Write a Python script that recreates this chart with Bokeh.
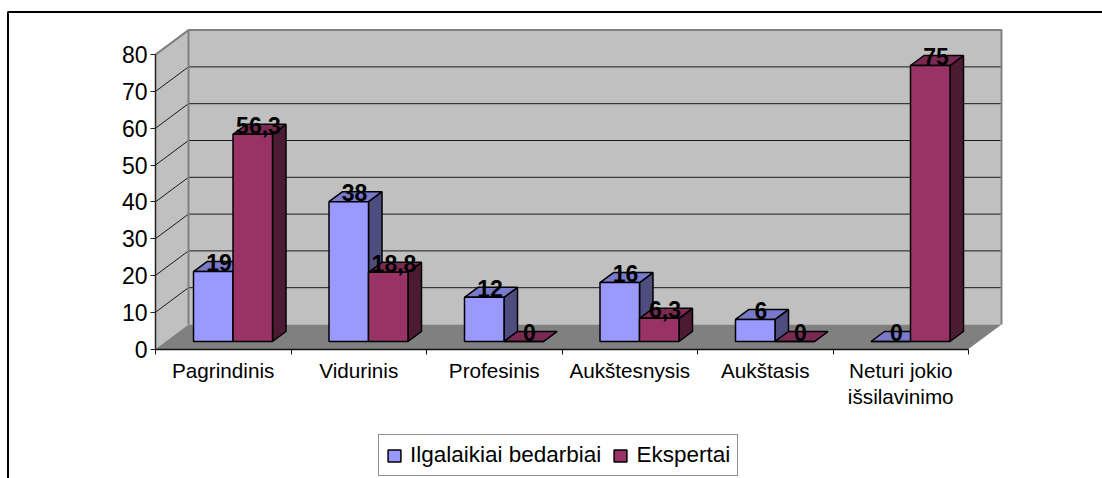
from bokeh.plotting import figure
from bokeh.models import Range1d, LinearAxis, FixedTicker, Legend, LegendItem
from bokeh.core.properties import value
from bokeh.embed import file_html
from bokeh.resources import INLINE

categories = ["Pagrindinis", "Vidurinis", "Profesinis", "Aukštesnysis", "Aukštasis", "Neturi jokio\nišsilavinimo"]
series_names = ["Ilgalaikiai bedarbiai", "Ekspertai"]
ilgalaikiai = [19, 38, 12, 16, 6, 0]
ekspertai = [56.3, 18.8, 0, 6.3, 0, 75]
ilgalaikiai_labels = ["19", "38", "12", "16", "6", "0"]
ekspertai_labels = ["56,3", "18,8", "0", "6,3", "0", "75"]
y_ticks = [0, 10, 20, 30, 40, 50, 60, 70, 80]

FONT = "Liberation Sans"
W, H = 1102, 478
X0, BAND = 155.0, 135.5      # pixel of category 0, pixels per category
Y0, UNIT = 348.5, 3.68       # pixel of value 0, pixels per value unit
def fx(px): return (px - X0) / BAND
def fy(py): return (Y0 - py) / UNIT

p = figure(width=W, height=H, output_backend="svg", toolbar_location=None,
           x_range=Range1d(fx(0), fx(W)), y_range=Range1d(fy(H), fy(0)),
           x_axis_location=None, y_axis_location=None, min_border=0,
           outline_line_color=None, background_fill_color="white", border_fill_color="white")
p.grid.visible = False

N = len(categories)
WALL_DX, WALL_DY = 33.0 / BAND, 24.5 / UNIT
TOP = y_ticks[-1]
# walls and floor
p.patch([0, WALL_DX, WALL_DX, 0], [0, WALL_DY, TOP + WALL_DY, TOP], fill_color="#C0C0C0", line_color=None)
p.patch([WALL_DX, WALL_DX + N, WALL_DX + N, WALL_DX], [WALL_DY, WALL_DY, TOP + WALL_DY, TOP + WALL_DY],
        fill_color="#C0C0C0", line_color=None)
p.patch([0, N, N + WALL_DX, WALL_DX], [0, 0, WALL_DY, WALL_DY], fill_color="#808080", line_color=None)
# grid lines
grid_vals = y_ticks[1:-1]
p.multi_line([[0, WALL_DX, WALL_DX + N] for v in grid_vals],
             [[v, v + WALL_DY, v + WALL_DY] for v in grid_vals], line_color="#1a1a1a", line_width=1)
# wall edges
p.line([0, WALL_DX, WALL_DX + N, WALL_DX + N], [TOP, TOP + WALL_DY, TOP + WALL_DY, WALL_DY],
       line_color="#808080", line_width=2)
p.line([WALL_DX, WALL_DX], [WALL_DY, TOP + WALL_DY], line_color="#808080", line_width=2)

# bars
BAR_START = 38.0 / BAND
BAR_W = 39.5 / BAND
BAR_DX, BAR_DY = 13.5 / BAND, 10.0 / UNIT
BASE = 7.5 / UNIT

def draw_series(vals, labels, offset, front, top, side, name):
    lefts = [i + BAR_START + offset * BAR_W for i in range(N)]
    rights = [l + BAR_W for l in lefts]
    tops = [BASE + v for v in vals]
    p.patches([[r, r + BAR_DX, r + BAR_DX, r] for r in rights],
              [[BASE, BASE + BAR_DY, t + BAR_DY, t] for t in tops],
              fill_color=side, line_color="black", line_width=1.5)
    p.patches([[l, r, r + BAR_DX, l + BAR_DX] for l, r in zip(lefts, rights)],
              [[t, t, t + BAR_DY, t + BAR_DY] for t in tops],
              fill_color=top, line_color="black", line_width=1.5)
    r = p.quad(left=lefts, right=rights, bottom=[BASE] * N, top=tops,
               fill_color=front, line_color="black", line_width=1.5)
    return r, lefts, tops

r1, l1, t1 = draw_series(ilgalaikiai, ilgalaikiai_labels, 0, "#9999FF", "#7A7ACC", "#4D4D80", series_names[0])
r2, l2, t2 = draw_series(ekspertai, ekspertai_labels, 1, "#993366", "#7A2952", "#4D1A33", series_names[1])

# data labels
LABEL_DX = (BAR_DX * BAND / 2 - 1.0) / BAND
for lefts, tops, labels in ((l1, t1, ilgalaikiai_labels), (l2, t2, ekspertai_labels)):
    p.text([l + BAR_W / 2 + LABEL_DX for l in lefts], [t + 9.0 / UNIT for t in tops], text=labels,
           text_font=value(FONT), text_font_style="bold", text_font_size="23px",
           text_align="center", text_baseline="middle", text_color="black")

# chart border (top and left sides only; the rest is cut off in the picture)
p.line([fx(7.5), fx(7.5), fx(W)], [fy(H), fy(11.5), fy(11.5)], line_color="black", line_width=2)

# axes
yax = LinearAxis(fixed_location=0, bounds=(0, TOP), ticker=FixedTicker(ticks=y_ticks))
yax.major_label_text_font = FONT
yax.major_label_text_font_size = "23px"
yax.major_label_text_color = "black"
yax.major_tick_in = 0
yax.major_tick_out = 5
yax.minor_tick_line_color = None
yax.major_label_standoff = 3
yax.axis_line_color = "#222222"
yax.axis_line_width = 1.5
yax.major_tick_line_color = "#222222"
p.add_layout(yax, "left")

xax = LinearAxis(fixed_location=0, bounds=(0, N), ticker=FixedTicker(ticks=list(range(N + 1))))
xax.major_label_text_font_size = "0px"
xax.major_label_overrides = {i: "" for i in range(N + 1)}
xax.major_tick_in = 0
xax.major_tick_out = 5
xax.minor_tick_line_color = None
xax.axis_line_color = "#111111"
xax.axis_line_width = 1.5
xax.major_tick_line_color = "#111111"
p.add_layout(xax, "below")

mids = [i + 0.5 for i in range(N)]
xlab = LinearAxis(fixed_location=0, ticker=FixedTicker(ticks=mids))
xlab.major_label_overrides = {m: c for m, c in zip(mids, categories)}
xlab.major_label_text_font = FONT
xlab.major_label_text_font_size = "20.7px"
xlab.major_label_text_color = "black"
xlab.major_label_text_line_height = 1.15
xlab.major_label_standoff = 4
xlab.major_tick_line_color = None
xlab.minor_tick_line_color = None
xlab.axis_line_color = None
p.add_layout(xlab, "below")

legend = Legend(items=[LegendItem(label=series_names[0], renderers=[r1]),
                       LegendItem(label=series_names[1], renderers=[r2])],
                orientation="horizontal", location=(378, 2), margin=0, padding=7, spacing=11,
                glyph_width=16, glyph_height=15, label_standoff=8, label_height=24, label_width=60,
                label_text_font=FONT, label_text_font_size="22.5px", label_text_color="black",
                border_line_color="#222222", border_line_width=1.5, background_fill_color="white",
                background_fill_alpha=1.0)
p.add_layout(legend, "center")

open("out.html", "w").write(file_html(p, INLINE))
